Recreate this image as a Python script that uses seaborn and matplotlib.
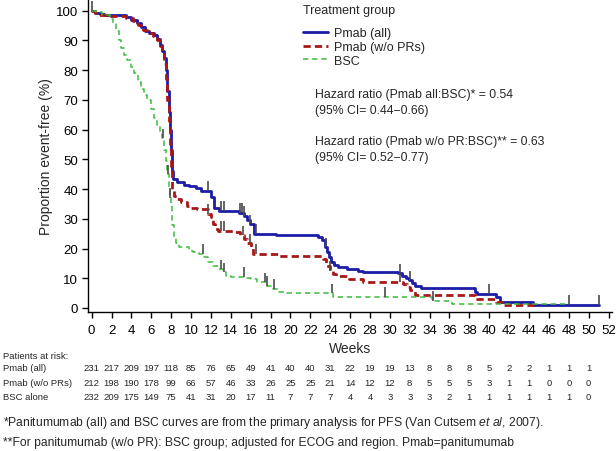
import numpy as np
import pandas as pd
import seaborn as sns
import matplotlib.pyplot as plt
import matplotlib.transforms as mtransforms

# Kaplan-Meier steps (weeks, % event-free)
pmab_all_t = [0, 0.3, 0.8, 1.2, 3.5, 4.0, 4.6, 5.0, 5.4, 5.8, 6.3, 6.6, 6.9, 7.1, 7.3,
              7.45, 7.6, 7.75, 7.9, 8.0, 8.1, 8.2, 8.6, 9.3, 9.8, 10.5, 11.0, 12.0, 12.3,
              12.8, 14.8, 15.3, 15.6, 15.9, 16.3, 18.5, 22.8, 23.2, 23.5, 23.7, 23.9, 24.1,
              24.4, 24.8, 25.7, 26.8, 27.3, 30.8, 31.2, 31.6, 31.9, 32.2, 32.5, 33.1, 38.6,
              38.8, 40.7, 41.1, 44.4, 51.0]
pmab_all_s = [100, 99.3, 98.8, 98.5, 97.8, 97.0, 95.8, 94.5, 93.3, 92.5, 91.8, 90.5, 88.5,
              86.5, 84, 80, 73, 66, 60, 53, 46, 43.5, 42.3, 41.5, 41.0, 40.2, 39.4, 37.3,
              33.5, 32.7, 32.0, 31.0, 29.5, 28.2, 25.0, 24.4, 23.8, 22.7, 20.5, 18.8, 17,
              15.5, 14.5, 13.8, 13.2, 12.6, 12.1, 11.6, 10.9, 10.2, 9.4, 8.3, 7.5, 6.7,
              5.5, 4.7, 3.6, 2.0, 1.1, 1.1]

pmab_wo_t = [0, 0.3, 0.7, 1.5, 3.5, 4.2, 4.7, 5.2, 5.6, 6.2, 6.6, 6.9, 7.1, 7.3, 7.45,
             7.6, 7.75, 7.9, 8.0, 8.1, 8.3, 8.6, 9.0, 9.6, 10.0, 10.6, 11.7, 12.0, 12.2,
             12.4, 12.7, 14.3, 14.9, 15.3, 15.6, 16.0, 16.2, 18.8, 23.3, 23.6, 24.0, 24.3,
             24.6, 25.9, 27.3, 31.3, 31.7, 32.0, 32.5, 38.6, 40.7, 41.3, 44.4, 44.6]
pmab_wo_s = [100, 99.2, 98.5, 98.3, 97.5, 96.5, 95.0, 93.5, 92.5, 91.5, 90, 88, 85.5, 82,
             77, 70, 63, 55, 46, 40, 37.8, 36.6, 35.5, 34.3, 33.7, 33.4, 31.6, 30.5, 28.2,
             26.6, 26.0, 25.4, 24.5, 23.2, 21.7, 20.4, 18.2, 17.6, 16.5, 14.2, 12.6, 11.4,
             10.8, 9.8, 8.9, 8.1, 7.0, 5.9, 4.4, 3.0, 1.9, 1.0, 0.2, 0.2]

bsc_t = [0, 0.4, 1.0, 1.8, 2.1, 2.4, 2.7, 3.0, 3.3, 3.6, 4.0, 4.3, 4.7, 5.0, 5.3, 5.6,
         6.0, 6.3, 6.6, 6.9, 7.1, 7.3, 7.45, 7.6, 7.75, 7.85, 8.0, 8.1, 8.3, 8.5, 8.8,
         9.8, 10.2, 10.8, 11.3, 11.7, 12.2, 12.8, 13.2, 13.5, 14.0, 15.6, 16.0, 16.6,
         17.5, 18.0, 18.7, 19.7, 24.3, 34.2, 36.3, 48.0]
bsc_s = [100, 99.5, 98.5, 97.2, 95.5, 93, 90, 87.5, 85, 83.5, 81, 79, 76, 73.7, 71.5, 70,
         67, 64, 61.5, 59, 57, 53, 49.5, 45, 40, 37, 34.4, 28, 24, 22, 20.4, 19.3, 18.7,
         18.2, 17.0, 15.5, 14.2, 13.1, 12.0, 10.9, 10.5, 10.2, 9.7, 8.6, 7.5, 6.4, 5.3,
         5.0, 3.7, 2.5, 1.3, 1.3]

# censoring marks (weeks)
cens_all = [0.05, 11.7, 13.0, 13.3, 14.9, 15.1, 15.3, 15.9, 16.5, 23.6, 31.0, 32.0, 40.0, 51.0]
cens_wo = [11.7, 13.0, 13.3, 15.2, 15.9, 16.5, 24.0, 31.0]
cens_bsc = [7.2, 7.65, 7.85, 11.2, 13.0, 13.3, 15.3, 17.4, 17.6, 18.3, 24.2, 29.5, 34.3, 48.0]

# patients at risk
risk_weeks = list(range(0, 51, 2))
risk_all = [231, 217, 209, 197, 118, 85, 76, 65, 49, 41, 40, 40, 31, 22, 19, 19, 13, 8, 8,
            8, 5, 2, 2, 1, 1, 1]
risk_wo = [212, 198, 190, 178, 99, 66, 57, 46, 33, 26, 25, 25, 21, 14, 12, 12, 8, 5, 5, 5,
           3, 1, 1, 0, 0, 0]
risk_bsc = [232, 209, 175, 149, 75, 41, 31, 20, 17, 11, 7, 7, 7, 4, 4, 3, 3, 3, 2, 1, 1, 1,
            1, 1, 1, 0]

sns.set_style('ticks')
plt.rcParams['font.family'] = ['Liberation Sans', 'DejaVu Sans']
plt.rcParams['mathtext.fontset'] = 'custom'
plt.rcParams['mathtext.it'] = 'Liberation Sans:italic'
plt.rcParams['mathtext.rm'] = 'Liberation Sans'

fig = plt.figure(figsize=(6.16, 4.52), dpi=100)
ax = fig.add_axes([88 / 616, 139 / 452, 524 / 616, 313 / 452])

BLUE = '#1c1ca6'
RED = '#a81818'
GREEN = '#3cba3c'
MARK = '#4a4a4a'

curves = [
    (pmab_all_t, pmab_all_s, 'Pmab (all)', BLUE, '-', 2.0),
    (pmab_wo_t, pmab_wo_s, 'Pmab (w/o PRs)', RED, (0, (2.6, 1.5)), 2.0),
    (bsc_t, bsc_s, 'BSC', GREEN, (0, (3.5, 2.5)), 1.1),
]
for t, s, lab, col, ls, lw in curves:
    df = pd.DataFrame({'week': t, 'pct': s})
    sns.lineplot(data=df, x='week', y='pct', ax=ax, estimator=None, color=col,
                 linestyle=ls, linewidth=lw, drawstyle='steps-post', label=lab)

# censor ticks sit on the curve and point up
for t, s, cens in [(pmab_all_t, pmab_all_s, cens_all), (pmab_wo_t, pmab_wo_s, cens_wo),
                   (bsc_t, bsc_s, cens_bsc)]:
    idx = np.searchsorted(t, cens, side='right') - 1
    lvl = np.array(s)[idx]
    ax.vlines(cens, lvl, lvl + 3.2, color=MARK, linewidth=1.2, zorder=5)

ax.set_xlim(-0.37, 52.35)
ax.set_ylim(-1.35, 103.9)
ax.set_xticks(range(0, 53, 2))
ax.set_yticks(range(0, 101, 10))
ax.tick_params(length=4, width=1, labelsize=9.5, pad=3, color='black', labelcolor='black')
ax.tick_params(axis='x', pad=4.5)
for sp in ['left', 'bottom']:
    ax.spines[sp].set_color('black')
    ax.spines[sp].set_linewidth(1)
sns.despine(ax=ax)
ax.set_xlabel('Weeks', fontsize=10, labelpad=4)
ax.set_ylabel('Proportion event-free (%)', fontsize=10, labelpad=2)

leg = ax.legend(title='Treatment group', loc='upper left',
                bbox_to_anchor=(303 / 616, 1 - 5 / 452), bbox_transform=fig.transFigure,
                frameon=False, fontsize=9, title_fontsize=9, handlelength=2.0,
                handletextpad=0.5, labelspacing=0.15, alignment='left',
                borderaxespad=0, borderpad=0)
leg._legend_box.sep = 8  # extra room under the title, as in the original

fig.text(315 / 616, 1 - 95 / 452, 'Hazard ratio (Pmab all:BSC)* = 0.54', fontsize=8.8, va='center')
fig.text(315 / 616, 1 - 111 / 452, '(95% CI= 0.44\u22120.66)', fontsize=8.8, va='center')
fig.text(315 / 616, 1 - 142 / 452, 'Hazard ratio (Pmab w/o PR:BSC)** = 0.63', fontsize=8.8, va='center')
fig.text(315 / 616, 1 - 158 / 452, '(95% CI= 0.52\u22120.77)', fontsize=8.8, va='center')

# patients-at-risk table under the axis
trans = mtransforms.blended_transform_factory(ax.transData, fig.transFigure)
fig.text(3 / 616, 1 - 357 / 452, 'Patients at risk:', fontsize=6.8, va='center')
rows = [('Pmab (all)', risk_all, 369), ('Pmab (w/o PRs)', risk_wo, 384), ('BSC alone', risk_bsc, 398)]
for lab, vals, ypx in rows:
    fig.text(3 / 616, 1 - ypx / 452, lab, fontsize=6.8, va='center')
    for w, v in zip(risk_weeks, vals):
        ax.text(w, 1 - ypx / 452, str(v), transform=trans, fontsize=6.8,
                ha='center', va='center', clip_on=False)

fig.text(3 / 616, 1 - 423 / 452,
         '*Panitumumab (all) and BSC curves are from the primary analysis for PFS (Van Cutsem $\\it{et\\ al}$, 2007).',
         fontsize=8.7, va='center')
fig.text(3 / 616, 1 - 443 / 452,
         '**For panitumumab (w/o PR): BSC group; adjusted for ECOG and region. Pmab=panitumumab',
         fontsize=8.7, va='center')

fig.savefig('out.png', dpi=100)
